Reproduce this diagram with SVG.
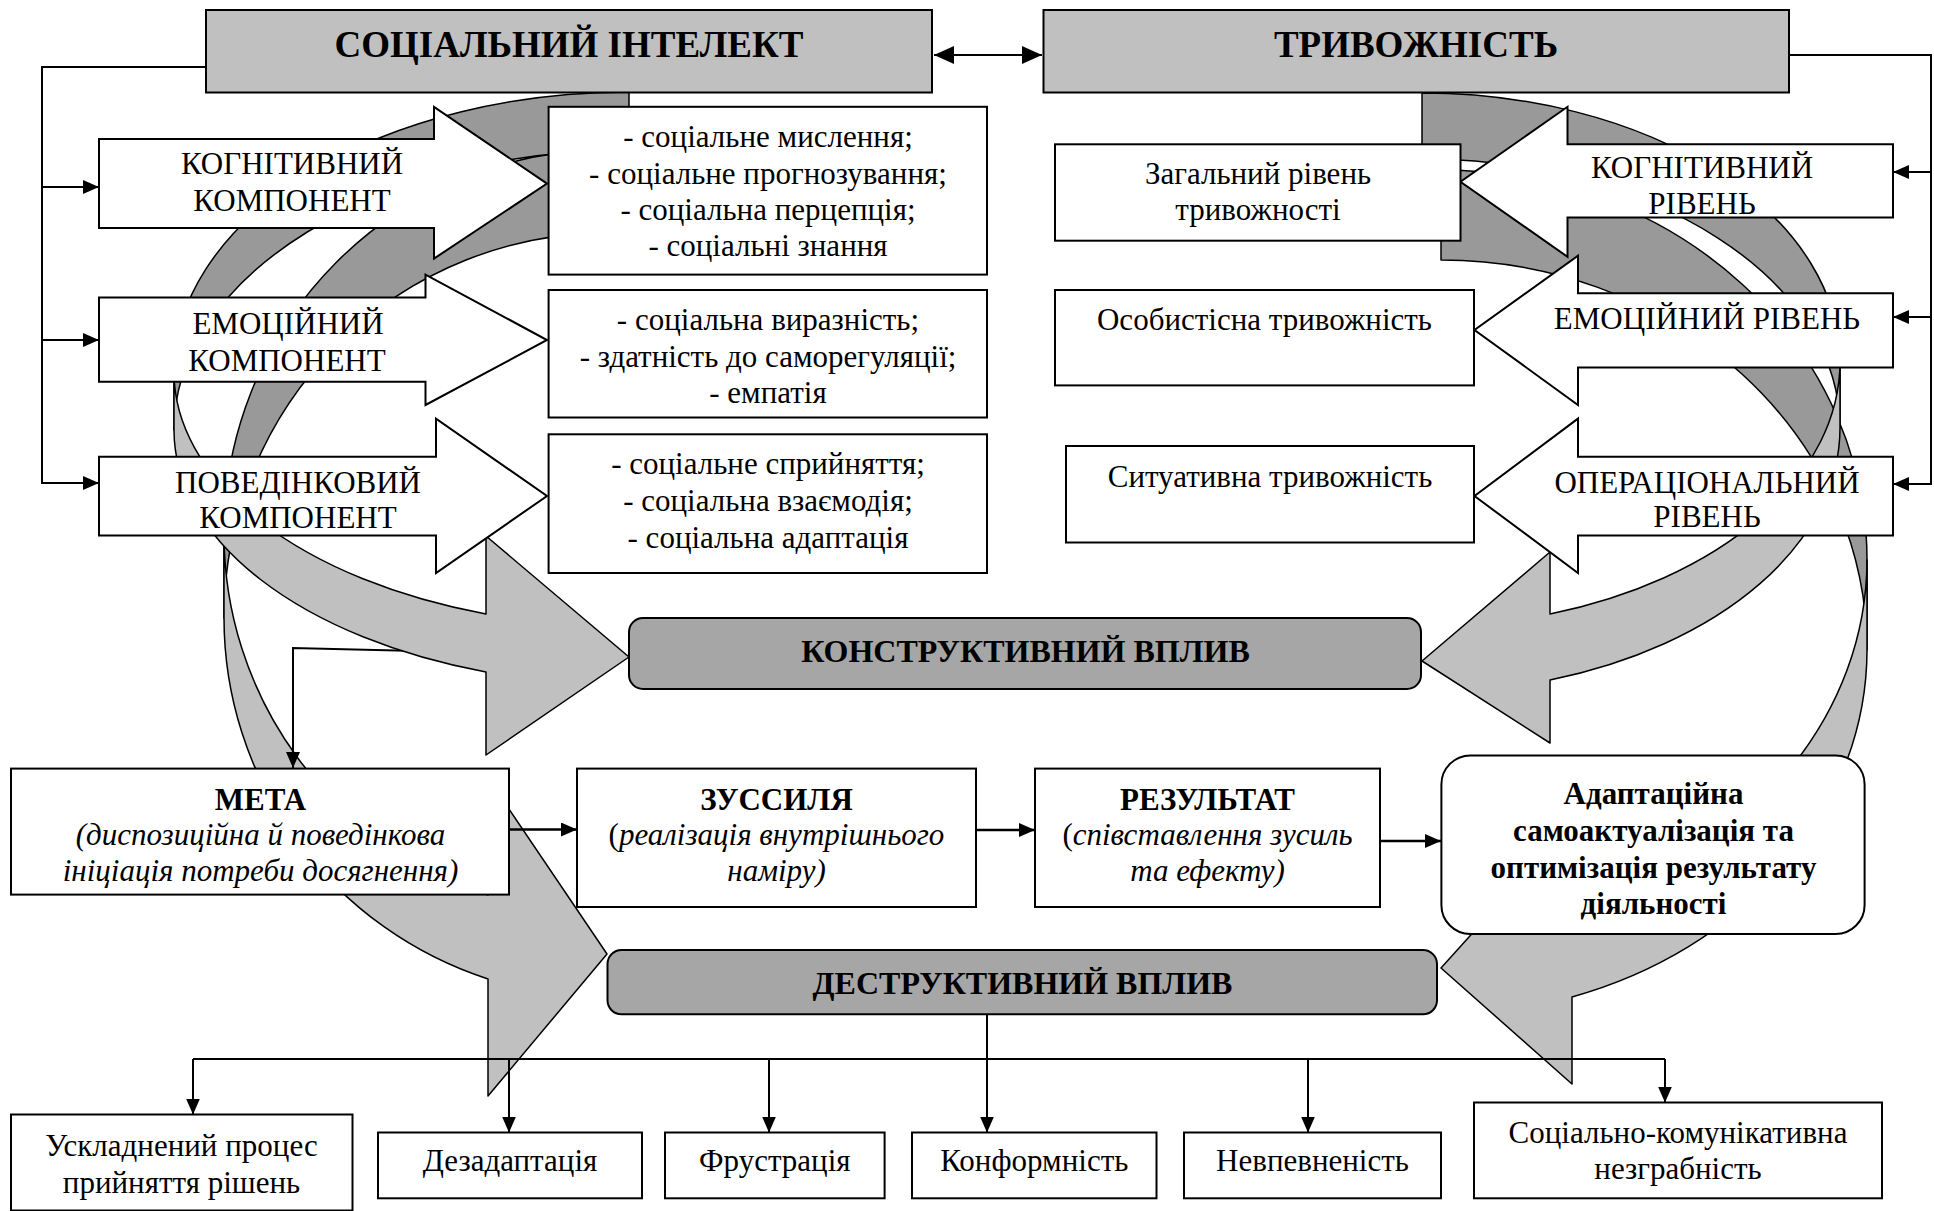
<svg xmlns="http://www.w3.org/2000/svg" width="1934" height="1211" viewBox="0 0 1934 1211">
<defs>
<style>
.t{font-family:"Liberation Serif","Times New Roman",serif;font-size:31px;fill:#000;text-anchor:middle}
.b{font-weight:bold}
.i{font-style:italic}
.n{font-style:normal}
.h1{font-size:37px;font-weight:bold}
.h2{font-size:32px;font-weight:bold}
.box{fill:#fff;stroke:#000;stroke-width:2}
.title{fill:#c0c0c0;stroke:#000;stroke-width:2}
.vpl{fill:#a6a6a6;stroke:#000;stroke-width:2}
.dark{fill:#999;stroke:#000;stroke-width:1.5;stroke-linejoin:round}
.light{fill:#c0c0c0;stroke:#000;stroke-width:1.5;stroke-linejoin:round}
.ln{fill:none;stroke:#000;stroke-width:2}
.lnb{fill:none;stroke:#000;stroke-width:2.6}
</style>
<marker id="a" markerUnits="userSpaceOnUse" markerWidth="16" markerHeight="14" refX="16" refY="7" orient="auto"><path d="M0,0L16,7L0,14Z" fill="#000"/></marker>
<marker id="a2" markerUnits="userSpaceOnUse" markerWidth="20" markerHeight="18" refX="20" refY="9" orient="auto-start-reverse"><path d="M0,0L20,9L0,18Z" fill="#000"/></marker>
</defs>
<rect x="0" y="0" width="1934" height="1211" fill="#fff"/>

<g id="swooshes">
  <path id="left-destr-back" class="dark" d="M607,150 A383 384 0 0 0 224,534 L224,618 A383 385 0 0 1 607,233 Z"/>
  <path id="left-constr-back" class="dark" d="M629,92 A455 280 0 0 0 174,372 L174,430 A455 280 0 0 1 629,150 Z"/>
  <path id="right-destr-back" class="dark" d="M1441,170 A426 390 0 0 1 1867,560 L1867,650 A426 390 0 0 0 1441,260 Z"/>
  <path id="right-constr-back" class="dark" d="M1422,93 A418 269 0 0 1 1840,362 L1840,428 A418 269 0 0 0 1422,159 Z"/>
  <path id="left-destr-front" class="light" d="M224,534 A383 380 0 0 0 488,895 L488,778 L607,954 L488,1096 L488,979 A383 380 0 0 1 224,618 Z"/>
</g>

<g id="connectors-under">
  <polyline class="ln" points="629,656 293,648 293,768" marker-end="url(#a)"/>
</g>

<g id="swooshes-front">
  <path id="left-constr-front" class="light" d="M174,372 A455 255 0 0 0 486,614 L486,536 L629,657 L486,755 L486,672 A455 255 0 0 1 174,430 Z"/>
  <path id="right-destr-front" class="light" d="M1867,560 A426 365 0 0 1 1572,907 L1572,823 L1441,968 L1572,1084 L1572,997 A426 365 0 0 0 1867,650 Z"/>
  <path id="right-constr-front" class="light" d="M1840,362 A418 265 0 0 1 1550,614 L1550,552 L1422,661 L1550,743 L1550,680 A418 265 0 0 0 1840,428 Z"/>
</g>

<g id="social-intellect">
  <rect class="title" x="206" y="10" width="726" height="82.5"/>
  <text class="t h1" x="569" y="57">СОЦІАЛЬНИЙ ІНТЕЛЕКТ</text>
</g>
<g id="anxiety">
  <rect class="title" x="1043.5" y="10" width="745.5" height="82.5"/>
  <text class="t h1" x="1416" y="57">ТРИВОЖНІСТЬ</text>
</g>

<g id="cognitive-component">
  <polygon class="box" points="99,139 434,139 434,107 547,183.6 434,258.6 434,228 99,228"/>
  <text class="t" x="292" y="173.5">КОГНІТИВНИЙ</text>
  <text class="t" x="292" y="210.5">КОМПОНЕНТ</text>
</g>
<g id="emotional-component">
  <polygon class="box" points="99,297.5 425.5,297.5 425.5,274.6 547,340 425.5,405 425.5,381.8 99,381.8"/>
  <text class="t" x="288" y="334">ЕМОЦІЙНИЙ</text>
  <text class="t" x="287" y="371">КОМПОНЕНТ</text>
</g>
<g id="behavioral-component">
  <polygon class="box" points="99,456.8 436,456.8 436,418.6 547,496 436,573 436,535.4 99,535.4"/>
  <text class="t" x="298" y="492.5">ПОВЕДІНКОВИЙ</text>
  <text class="t" x="298" y="528">КОМПОНЕНТ</text>
</g>

<g id="cognitive-list">
  <rect class="box" x="548.6" y="106.8" width="438.4" height="167.8"/>
  <text class="t" x="768" y="147">- соціальне мислення;</text>
  <text class="t" x="768" y="183.5">- соціальне прогнозування;</text>
  <text class="t" x="768" y="219.5">- соціальна перцепція;</text>
  <text class="t" x="768" y="256">- соціальні знання</text>
</g>
<g id="emotional-list">
  <rect class="box" x="548.6" y="290" width="438.4" height="127.5"/>
  <text class="t" x="768" y="329.5">- соціальна виразність;</text>
  <text class="t" x="768" y="367">- здатність до саморегуляції;</text>
  <text class="t" x="768" y="403">- емпатія</text>
</g>
<g id="behavioral-list">
  <rect class="box" x="548.6" y="434.3" width="438.4" height="138.7"/>
  <text class="t" x="768" y="473.5">- соціальне сприйняття;</text>
  <text class="t" x="768" y="511">- соціальна взаємодія;</text>
  <text class="t" x="768" y="548">- соціальна адаптація</text>
</g>

<g id="cognitive-level">
  <polygon class="box" points="1893,144.3 1567.5,144.3 1567.5,106.8 1460.5,181.8 1567.5,256.8 1567.5,217.5 1893,217.5"/>
  <text class="t" x="1702" y="178">КОГНІТИВНИЙ</text>
  <text class="t" x="1702" y="214">РІВЕНЬ</text>
</g>
<g id="emotional-level">
  <polygon class="box" points="1893,293.2 1578,293.2 1578,255.7 1474.5,330 1578,405 1578,367.5 1893,367.5"/>
  <text class="t" x="1707" y="329">ЕМОЦІЙНИЙ РІВЕНЬ</text>
</g>
<g id="operational-level">
  <polygon class="box" points="1893,456.8 1578,456.8 1578,418.6 1474.5,496 1578,573 1578,535.4 1893,535.4"/>
  <text class="t" x="1707" y="492.5">ОПЕРАЦІОНАЛЬНИЙ</text>
  <text class="t" x="1707" y="527">РІВЕНЬ</text>
</g>

<g id="general-anxiety">
  <rect class="box" x="1055" y="144.3" width="405.5" height="96.4"/>
  <text class="t" x="1258" y="183.5">Загальний рівень</text>
  <text class="t" x="1258" y="220">тривожності</text>
</g>
<g id="personal-anxiety">
  <rect class="box" x="1055" y="290" width="419" height="95.4"/>
  <text class="t" x="1264.5" y="330">Особистісна тривожність</text>
</g>
<g id="situational-anxiety">
  <rect class="box" x="1066" y="446" width="408" height="96.5"/>
  <text class="t" x="1270" y="487">Ситуативна тривожність</text>
</g>

<g id="constructive">
  <rect class="vpl" x="629" y="618" width="792" height="71" rx="14"/>
  <text class="t h2" x="1025.5" y="662">КОНСТРУКТИВНИЙ ВПЛИВ</text>
</g>
<g id="destructive">
  <rect class="vpl" x="607.5" y="950" width="829.5" height="64.3" rx="14"/>
  <text class="t h2" x="1022.5" y="994">ДЕСТРУКТИВНИЙ ВПЛИВ</text>
</g>

<g id="goal">
  <rect class="box" x="11" y="768.6" width="498" height="126"/>
  <text class="t b" x="260.5" y="809.5">МЕТА</text>
  <text class="t i" x="260.5" y="845">(диспозиційна й поведінкова</text>
  <text class="t i" x="260.5" y="881">ініціація потреби досягнення)</text>
</g>
<g id="effort">
  <rect class="box" x="577" y="768.6" width="399" height="138.4"/>
  <text class="t b" x="776.5" y="809.5">ЗУССИЛЯ</text>
  <text class="t" x="776.5" y="845">(<tspan class="i">реалізація внутрішнього</tspan></text>
  <text class="t i" x="776.5" y="881">наміру)</text>
</g>
<g id="result">
  <rect class="box" x="1035" y="768.6" width="345" height="138.4"/>
  <text class="t b" x="1207.5" y="809.5">РЕЗУЛЬТАТ</text>
  <text class="t" x="1207.5" y="845">(<tspan class="i">співставлення зусиль</tspan></text>
  <text class="t i" x="1207.5" y="881">та ефекту)</text>
</g>
<g id="adaptive">
  <rect class="box" x="1441.4" y="755.4" width="423.2" height="178.6" rx="29"/>
  <text class="t b" x="1653.5" y="804">Адаптаційна</text>
  <text class="t b" x="1653.5" y="841">самоактуалізація та</text>
  <text class="t b" x="1653.5" y="878">оптимізація результату</text>
  <text class="t b" x="1653.5" y="914">діяльності</text>
</g>

<g id="decision">
  <rect class="box" x="11" y="1114.5" width="341.5" height="96"/>
  <text class="t" x="181.5" y="1156">Ускладнений процес</text>
  <text class="t" x="181.5" y="1192.5">прийняття рішень</text>
</g>
<g id="disadaptation">
  <rect class="box" x="378" y="1132.5" width="264" height="65.8"/>
  <text class="t" x="510" y="1171">Дезадаптація</text>
</g>
<g id="frustration">
  <rect class="box" x="665" y="1132.5" width="219.6" height="65.8"/>
  <text class="t" x="774.8" y="1171">Фрустрація</text>
</g>
<g id="conformity">
  <rect class="box" x="912" y="1132.5" width="244.5" height="65.8"/>
  <text class="t" x="1034.3" y="1171">Конформність</text>
</g>
<g id="uncertainty">
  <rect class="box" x="1184" y="1132.5" width="257" height="65.8"/>
  <text class="t" x="1312.5" y="1171">Невпевненість</text>
</g>
<g id="awkwardness">
  <rect class="box" x="1474" y="1102.5" width="408" height="95.8"/>
  <text class="t" x="1678" y="1143">Соціально-комунікативна</text>
  <text class="t" x="1678" y="1179">незграбність</text>
</g>

<g id="connectors">
  <line class="ln" x1="934" y1="55" x2="1042" y2="55" stroke-width="4" marker-start="url(#a2)" marker-end="url(#a2)"/>
  <polyline class="ln" points="206,67 42,67 42,483 99,483" marker-end="url(#a)"/>
  <line class="ln" x1="42" y1="187" x2="99" y2="187" marker-end="url(#a)"/>
  <line class="ln" x1="42" y1="340" x2="99" y2="340" marker-end="url(#a)"/>
  <polyline class="ln" points="1789,55 1931,55 1931,484 1893,484" marker-end="url(#a)"/>
  <line class="ln" x1="1931" y1="172" x2="1893" y2="172" marker-end="url(#a)"/>
  <line class="ln" x1="1931" y1="317" x2="1893" y2="317" marker-end="url(#a)"/>
  <line class="lnb" x1="509" y1="829.5" x2="577" y2="829.5" marker-end="url(#a)"/>
  <line class="lnb" x1="976" y1="830" x2="1035" y2="830" marker-end="url(#a)"/>
  <line class="lnb" x1="1380" y1="841" x2="1441" y2="841" marker-end="url(#a)"/>
  <line class="ln" x1="987" y1="1014.3" x2="987" y2="1132.5" marker-end="url(#a)"/>
  <line class="ln" x1="193" y1="1059" x2="1665" y2="1059"/>
  <line class="ln" x1="193" y1="1059" x2="193" y2="1114.5" marker-end="url(#a)"/>
  <line class="ln" x1="509" y1="1059" x2="509" y2="1132.5" marker-end="url(#a)"/>
  <line class="ln" x1="769" y1="1059" x2="769" y2="1132.5" marker-end="url(#a)"/>
  <line class="ln" x1="1308" y1="1059" x2="1308" y2="1132.5" marker-end="url(#a)"/>
  <line class="ln" x1="1665" y1="1059" x2="1665" y2="1102.5" marker-end="url(#a)"/>
</g>
</svg>
